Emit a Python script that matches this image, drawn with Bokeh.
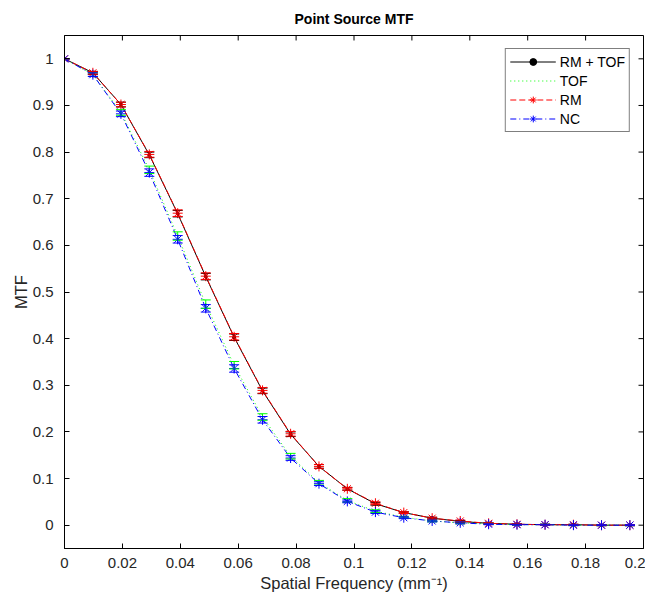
from bokeh.plotting import figure
from bokeh.models import (ColumnDataSource, Whisker, TeeHead, Legend, LegendItem,
                          Range1d, FixedTicker)
from bokeh.embed import file_html
from bokeh.resources import INLINE
import math

# ---------------- data ----------------
freq = [0.0, 0.0098, 0.0195, 0.0293, 0.0391, 0.0488, 0.0586, 0.0684, 0.0781, 0.0879,
        0.0977, 0.1074, 0.1172, 0.1270, 0.1367, 0.1465, 0.1563, 0.1660, 0.1758, 0.1855, 0.1953]

rm_tof = [1.0, 0.970, 0.902, 0.794, 0.668, 0.533, 0.403, 0.288, 0.195, 0.126, 0.078,
          0.046, 0.027, 0.015, 0.008, 0.004, 0.002, 0.001, 0.001, 0.000, 0.000]
tof = [1.0, 0.966, 0.885, 0.762, 0.620, 0.474, 0.343, 0.232, 0.148, 0.091, 0.053,
       0.030, 0.017, 0.009, 0.005, 0.003, 0.001, 0.001, 0.000, 0.000, 0.000]
rm = [1.0, 0.970, 0.902, 0.795, 0.669, 0.534, 0.404, 0.289, 0.196, 0.126, 0.078,
      0.047, 0.027, 0.015, 0.009, 0.004, 0.002, 0.001, 0.001, 0.000, 0.000]
nc = [1.0, 0.966, 0.882, 0.756, 0.613, 0.465, 0.336, 0.226, 0.144, 0.089, 0.051,
      0.028, 0.016, 0.009, 0.005, 0.002, 0.001, 0.001, 0.000, 0.000, 0.000]

err_rm_tof = [0.0, 0.003, 0.005, 0.006, 0.007, 0.007, 0.007, 0.006, 0.005, 0.004, 0.003,
              0.003, 0.002, 0.002, 0.002, 0.001, 0.001, 0.001, 0.001, 0.001, 0.001]
err_tof = [0.0, 0.004, 0.006, 0.008, 0.009, 0.009, 0.008, 0.007, 0.006, 0.005, 0.004,
           0.003, 0.002, 0.002, 0.002, 0.001, 0.001, 0.001, 0.001, 0.001, 0.001]
err_rm = [0.0, 0.003, 0.005, 0.006, 0.007, 0.007, 0.007, 0.006, 0.005, 0.004, 0.003,
          0.003, 0.002, 0.002, 0.002, 0.001, 0.001, 0.001, 0.001, 0.001, 0.001]
err_nc = [0.0, 0.004, 0.006, 0.008, 0.008, 0.008, 0.008, 0.007, 0.005, 0.004, 0.003,
          0.003, 0.002, 0.002, 0.002, 0.001, 0.001, 0.001, 0.001, 0.001, 0.001]

series_names = ["RM + TOF", "TOF", "RM", "NC"]

x_ticks = [0, 0.02, 0.04, 0.06, 0.08, 0.1, 0.12, 0.14, 0.16, 0.18, 0.2]
x_tick_labels = ["0", "0.02", "0.04", "0.06", "0.08", "0.1", "0.12", "0.14", "0.16", "0.18", "0.2"]
y_ticks = [0, 0.1, 0.2, 0.3, 0.4, 0.5, 0.6, 0.7, 0.8, 0.9, 1.0]
y_tick_labels = ["0", "0.1", "0.2", "0.3", "0.4", "0.5", "0.6", "0.7", "0.8", "0.9", "1"]

FONT = "Liberation Sans"
X0, X1, Y0, Y1 = 0.0, 0.2, -0.05, 1.05

W, H = 645, 595
BL, BR, BT, BB = 64, 2, 34, 47

p = figure(width=W, height=H, output_backend="svg", toolbar_location=None,
           x_range=Range1d(X0, X1), y_range=Range1d(Y0, Y1),
           title="Point Source MTF",
           min_border_left=BL, min_border_right=BR, min_border_top=BT, min_border_bottom=BB)

p.title.align = "center"
p.title.text_font = FONT
p.title.text_font_style = "bold"
p.title.text_font_size = "14px"
p.title.text_color = "black"
p.title.offset = 0
p.title.standoff = 17

p.xgrid.visible = False
p.ygrid.visible = False
p.outline_line_color = "black"
p.outline_line_width = 1
p.background_fill_color = "white"
p.border_fill_color = "white"

def style_axis(ax, ticks, labels):
    ax.ticker = FixedTicker(ticks=ticks)
    ax.major_label_overrides = {t: l for t, l in zip(ticks, labels)}
    ax.major_tick_in = 5
    ax.major_tick_out = 0
    ax.minor_tick_line_color = None
    ax.axis_line_color = "black"
    ax.major_tick_line_color = "black"
    ax.major_label_text_font = FONT
    ax.major_label_text_color = "#262626"
    ax.major_label_text_font_size = "15px"
    ax.axis_label_text_font = FONT
    ax.axis_label_text_font_style = "normal"
    ax.axis_label_text_color = "#262626"
    ax.axis_label_text_font_size = "16.5px"

style_axis(p.xaxis[0], x_ticks, x_tick_labels)
style_axis(p.yaxis[0], y_ticks, y_tick_labels)
p.xaxis[0].axis_label = "Spatial Frequency (mm⁻¹)"
p.xaxis[0].major_label_standoff = 9
p.xaxis[0].axis_label_standoff = 3
p.yaxis[0].axis_label = "MTF"
p.yaxis[0].major_label_standoff = 11
p.yaxis[0].axis_label_standoff = 0

# inward tick marks on the top and right edges of the box (tick length 5 px)
fw = W - BL - BR
fh = H - BT - BB
tx = (X1 - X0) * 5.0 / fw
ty = (Y1 - Y0) * 5.0 / fh
p.segment(x0=x_ticks, y0=[Y1] * len(x_ticks), x1=x_ticks, y1=[Y1 - ty] * len(x_ticks),
          line_color="black", line_width=1)
p.segment(x0=[X1] * len(y_ticks), y0=y_ticks, x1=[X1 - tx] * len(y_ticks), y1=y_ticks,
          line_color="black", line_width=1)

styles = [
    dict(name=series_names[0], y=rm_tof, e=err_rm_tof, color="black", dash="solid", marker="circle", msize=3),
    dict(name=series_names[1], y=tof, e=err_tof, color="#00ff00", dash="1 3", marker=None, msize=0),
    dict(name=series_names[2], y=rm, e=err_rm, color="#ff0000", dash="6 3", marker="asterisk", msize=10),
    dict(name=series_names[3], y=nc, e=err_nc, color="#0000ff", dash="6 3 1 3", marker="asterisk", msize=10),
]

items = []
for s in styles:
    src = ColumnDataSource(dict(x=freq, y=s["y"],
                                upper=[a + b for a, b in zip(s["y"], s["e"])],
                                lower=[a - b for a, b in zip(s["y"], s["e"])]))
    w = Whisker(source=src, base="x", upper="upper", lower="lower",
                line_color=s["color"], line_width=1, level="glyph",
                upper_head=TeeHead(size=10, line_color=s["color"], line_width=1),
                lower_head=TeeHead(size=10, line_color=s["color"], line_width=1))
    p.add_layout(w)
    r_line = p.line("x", "y", source=src, line_color=s["color"], line_width=1,
                    line_dash=s["dash"])
    # legend-only error bar icon (empty data: draws nothing in the plot)
    empty = ColumnDataSource(dict(x=[], y=[]))
    r_eb = p.scatter("x", "y", source=empty, marker="dash", angle=math.pi / 2, size=13,
                     line_color=s["color"], line_width=1)
    rends = [r_line, r_eb]
    if s["marker"]:
        r_m = p.scatter("x", "y", source=src, marker=s["marker"], size=s["msize"],
                        line_color=s["color"], fill_color=s["color"], line_width=1)
        rends.append(r_m)
    items.append(LegendItem(label=s["name"], renderers=rends))

legend = Legend(items=items, location="top_right")
legend.label_text_font = FONT
legend.label_text_font_size = "14px"
legend.label_text_color = "black"
legend.border_line_color = "black"
legend.border_line_width = 1
legend.background_fill_alpha = 1
legend.glyph_width = 46
legend.glyph_height = 17
legend.label_height = 17
legend.spacing = 2
legend.padding = 4
legend.margin = 13
legend.label_standoff = 4
p.add_layout(legend, "center")

open("out.html", "w").write(file_html(p, INLINE))
